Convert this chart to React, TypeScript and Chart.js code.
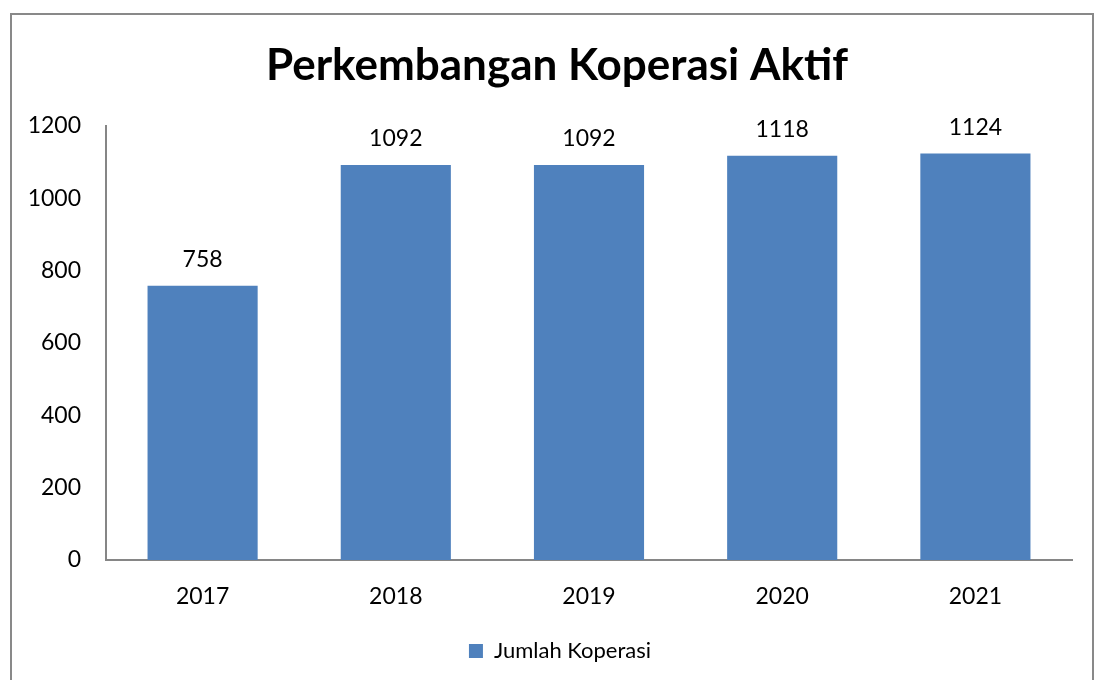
import React, { useEffect, useRef } from "react";
import { Chart, registerables } from "chart.js";

Chart.register(...registerables);

const categories = ["2017", "2018", "2019", "2020", "2021"];
const jumlahKoperasi = [758, 1092, 1092, 1118, 1124];
const seriesName = "Jumlah Koperasi";
const chartTitle = "Perkembangan Koperasi Aktif";
const yTicks = [0, 200, 400, 600, 800, 1000, 1200];

const FONT = "Lato, 'Open Sans', sans-serif";

const dataLabelPlugin = {
  id: "dataLabels",
  afterDatasetsDraw(chart: any) {
    const ctx = chart.ctx;
    ctx.save();
    ctx.font = `23px ${FONT}`;
    ctx.fillStyle = "#000";
    ctx.textAlign = "center";
    ctx.textBaseline = "middle";
    chart.data.datasets.forEach((ds: any, i: number) => {
      const meta = chart.getDatasetMeta(i);
      meta.data.forEach((bar: any, j: number) => {
        ctx.fillText(String(ds.data[j]), bar.x, bar.y - 26);
      });
    });
    ctx.restore();
  },
};

const blockShiftPlugin = {
  id: "blockShift",
  afterLayout(chart: any) {
    if (chart.legend) {
      chart.legend.left += 18;
      chart.legend.right += 18;
    }
    if (chart.titleBlock) {
      chart.titleBlock.left += 15;
      chart.titleBlock.right += 15;
    }
  },
};

export default function App() {
  const ref = useRef<HTMLCanvasElement>(null);
  useEffect(() => {
    document.body.style.overflow = "hidden";
    document.documentElement.style.overflow = "hidden";
    const chart = new Chart(ref.current!, {
      type: "bar",
      data: {
        labels: categories,
        datasets: [
          {
            label: seriesName,
            data: jumlahKoperasi,
            backgroundColor: "#4F81BD",
            borderWidth: 0,
            barPercentage: 0.57,
            categoryPercentage: 1.0,
          },
        ],
      },
      options: {
        responsive: false,
        animation: false,
        layout: { padding: { top: 0, left: 0, right: 20, bottom: 8 } },
        plugins: {
          title: {
            display: true,
            text: chartTitle,
            color: "#000",
            font: { family: FONT, size: 44, weight: "bold", lineHeight: 1.2 },
            padding: { top: 24.5, bottom: 33.7 },
          },
          legend: {
            display: true,
            position: "bottom",
            labels: {
              color: "#000",
              font: { family: FONT, size: 22 },
              boxWidth: 14,
              boxHeight: 14,
              padding: 10,
            },
          },
          tooltip: { enabled: false },
        },
        scales: {
          x: {
            grid: { display: false, drawTicks: false },
            border: { display: true, color: "#868686", width: 2 },
            ticks: { color: "#000", font: { family: FONT, size: 23 }, padding: 23 },
            afterFit(scale: any) {
              scale.height = 70;
            },
          },
          y: {
            min: 0,
            max: 1200,
            grid: { display: false, drawTicks: false },
            border: { display: true, color: "#868686", width: 2 },
            ticks: {
              color: "#000",
              font: { family: FONT, size: 23 },
              padding: 25,
              stepSize: 200,
              callback: (v: any) => (yTicks.includes(v) ? String(v) : ""),
            },
            afterFit(scale: any) {
              scale.width = 94;
            },
          },
        },
      },
      plugins: [dataLabelPlugin, blockShiftPlugin],
    });
    return () => chart.destroy();
  }, []);
  return (
    <div
      style={{
        position: "absolute",
        left: 10,
        top: 13,
        width: 1080,
        height: 700,
        border: "2px solid #898989",
        background: "#fff",
      }}
    >
      <canvas ref={ref} width={1080} height={665} style={{ display: "block" }} />
    </div>
  );
}
